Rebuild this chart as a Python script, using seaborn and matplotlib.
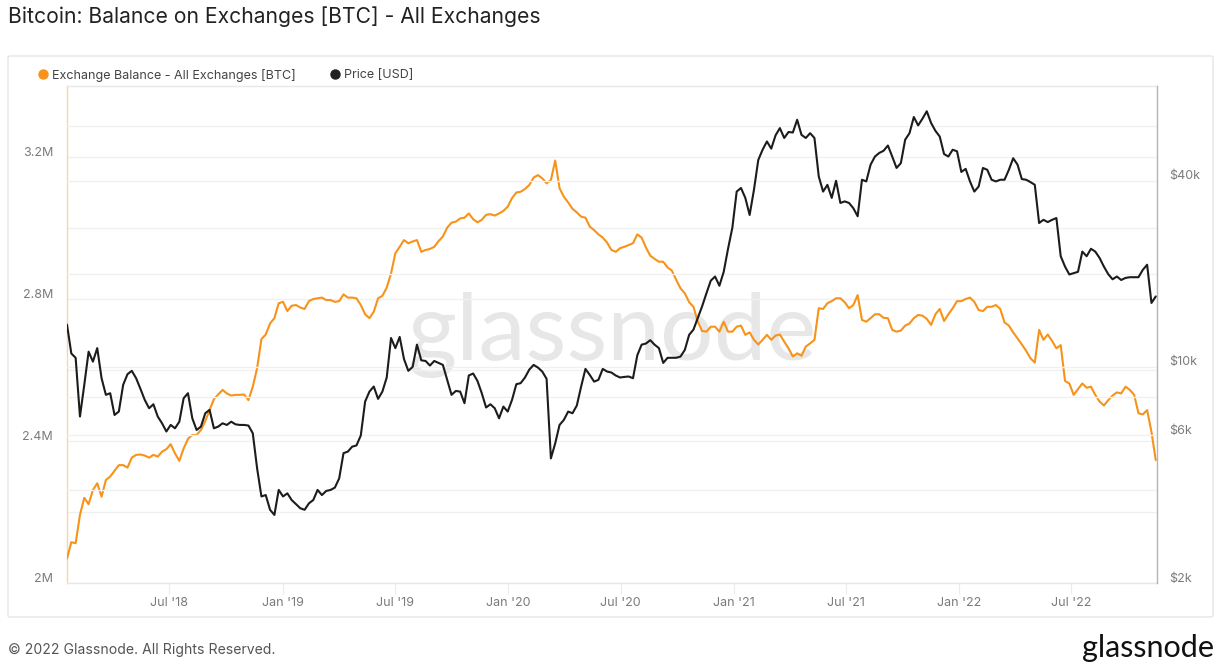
import numpy as np
import pandas as pd
import matplotlib
matplotlib.use("Agg")
import matplotlib.pyplot as plt
import matplotlib.dates as mdates
from matplotlib.ticker import FixedLocator, FuncFormatter, NullLocator
from matplotlib.transforms import ScaledTranslation
from matplotlib.lines import Line2D
from matplotlib.patches import FancyBboxPatch
import seaborn as sns

# ---------------- data (weekly readings) ----------------
start_date = "2018-01-16"

# Exchange balance, million BTC
balance_m = [
    2.069, 2.115, 2.112, 2.192, 2.240, 2.222, 2.262, 2.281, 2.243, 2.290,
    2.300, 2.316, 2.332, 2.332, 2.325, 2.353, 2.361, 2.362, 2.359, 2.353,
    2.361, 2.356, 2.370, 2.377, 2.391, 2.365, 2.344, 2.379, 2.406, 2.417,
    2.417, 2.431, 2.456, 2.487, 2.518, 2.531, 2.544, 2.534, 2.528, 2.530,
    2.530, 2.531, 2.515, 2.553, 2.605, 2.687, 2.700, 2.731, 2.746, 2.788,
    2.792, 2.766, 2.781, 2.783, 2.776, 2.772, 2.794, 2.800, 2.802, 2.804,
    2.797, 2.797, 2.792, 2.794, 2.813, 2.804,
    2.804, 2.802, 2.783, 2.757, 2.746, 2.764, 2.802, 2.809, 2.832, 2.872,
    2.929, 2.947, 2.966, 2.957, 2.962, 2.966, 2.933, 2.938, 2.941, 2.947,
    2.963, 2.976, 3.001, 3.015, 3.018, 3.027, 3.029, 3.041, 3.025, 3.016,
    3.023, 3.037, 3.039, 3.035, 3.041, 3.048, 3.060, 3.084, 3.100, 3.102,
    3.110, 3.121, 3.142, 3.149, 3.140, 3.126, 3.135, 3.190, 3.112, 3.088,
    3.072, 3.054, 3.044, 3.032, 3.029, 3.004, 2.994, 2.982, 2.973, 2.959,
    2.938, 2.933, 2.943, 2.947, 2.952,
    2.957, 2.982, 2.973, 2.945, 2.922, 2.913, 2.905, 2.905, 2.889, 2.880,
    2.854, 2.830, 2.816, 2.791, 2.778, 2.736, 2.710, 2.708, 2.722, 2.722,
    2.708, 2.736, 2.708, 2.708, 2.722, 2.725, 2.699, 2.706, 2.685, 2.672,
    2.685, 2.699, 2.685, 2.697, 2.700, 2.680, 2.661, 2.638, 2.647, 2.640,
    2.666, 2.675, 2.685, 2.774, 2.772, 2.788, 2.794, 2.802, 2.802, 2.791,
    2.774, 2.783, 2.811, 2.741, 2.736, 2.746, 2.757, 2.757, 2.747, 2.746,
    2.713, 2.708, 2.711, 2.725, 2.731,
    2.746, 2.755, 2.753, 2.744, 2.727, 2.757, 2.772, 2.738, 2.757, 2.774,
    2.794, 2.794, 2.800, 2.804, 2.792, 2.769, 2.766, 2.778, 2.778, 2.783,
    2.772, 2.734, 2.725, 2.706, 2.689, 2.672, 2.654, 2.633, 2.621, 2.713,
    2.685, 2.700, 2.682, 2.661, 2.670, 2.569, 2.562, 2.530, 2.546, 2.562,
    2.550, 2.553, 2.530, 2.511, 2.500, 2.515, 2.528, 2.537, 2.534, 2.553,
    2.544, 2.530, 2.478, 2.475, 2.487, 2.426, 2.346,
]

# BTC price, thousand USD
price_k = [
    13.7, 11.05, 10.7, 6.91, 8.75, 11.2, 10.4, 11.5, 9.19, 8.12,
    8.22, 6.99, 7.17, 8.75, 9.47, 9.71, 9.19, 8.49, 7.82, 7.35,
    7.57, 6.91, 6.57, 6.18, 6.49, 6.33, 6.65, 7.92, 8.22, 6.82,
    6.25, 6.41, 7.08, 7.26, 6.33, 6.41, 6.57, 6.49, 6.65, 6.52,
    6.49, 6.49, 6.46, 6.10, 4.70, 3.81, 3.85, 3.45, 3.32, 4.0,
    3.81, 3.90, 3.71, 3.60, 3.49, 3.45, 3.62, 3.71, 4.0, 3.85,
    3.97, 4.0, 4.07, 4.36, 5.26, 5.32,
    5.52, 5.57, 6.00, 7.72, 8.32, 8.64, 7.88, 8.32, 9.24, 12.4,
    11.5, 12.5, 10.6, 9.71, 10.0, 11.8, 10.5, 10.45, 10.1, 10.45,
    10.3, 10.15, 9.08, 8.12, 8.36, 8.32, 7.63, 9.38, 9.52, 9.01,
    8.22, 7.39, 7.57, 7.35, 6.82, 7.44, 7.17, 7.82, 8.79, 8.86,
    9.24, 9.8, 10.15, 9.95, 9.66, 9.15, 5.06, 5.66, 6.49, 6.74,
    7.17, 7.08, 7.50, 8.64, 9.85, 9.42, 8.96, 9.08, 9.85, 9.66,
    9.59, 9.38, 9.24, 9.28, 9.31,
    9.19, 10.9, 11.8, 11.9, 12.2, 11.8, 11.5, 10.3, 10.7, 10.7,
    10.7, 10.8, 11.35, 12.7, 13.2, 14.4, 15.7, 17.3, 19.0, 19.6,
    18.3, 20.3, 24.1, 28.2, 36.9, 37.9, 35.2, 31.0, 37.4, 46.7,
    50.4, 53.6, 50.8, 56.1, 59.2, 55.0, 57.5, 57.3, 63.0, 56.3,
    55.0, 57.0, 55.0, 41.3, 36.9, 38.8, 35.2, 40.0, 33.9, 34.3,
    33.9, 32.6, 30.7, 40.3, 39.8, 45.1, 47.9, 49.2, 50.0, 52.0,
    47.9, 44.0, 45.6, 54.3, 57.0,
    64.3, 60.4, 63.5, 67.1, 61.5, 58.0, 55.6, 48.8, 47.9, 50.4,
    49.8, 42.7, 43.7, 39.8, 36.9, 38.3, 44.0, 43.4, 40.3, 39.8,
    40.3, 40.3, 43.4, 47.3, 45.1, 40.5, 40.3, 39.6, 38.8, 29.2,
    29.9, 29.4, 29.9, 30.3, 22.8, 21.1, 19.9, 20.1, 20.3, 23.6,
    22.8, 24.1, 23.6, 22.5, 21.1, 19.95, 19.2, 19.6, 19.1, 19.4,
    19.5, 19.5, 19.5, 20.6, 21.4, 16.1, 16.9,
]

left_ticks = [2.0e6, 2.2e6, 2.4e6, 2.6e6, 2.8e6, 3.0e6, 3.2e6]
left_labels = {2.0e6: "2M", 2.4e6: "2.4M", 2.8e6: "2.8M", 3.2e6: "3.2M"}
right_ticks = [2000, 4000, 6000, 8000, 10000, 20000, 40000, 60000]
right_labels = {2000: "$2k", 6000: "$6k", 10000: "$10k", 40000: "$40k"}
x_ticks = ["2018-07-01", "2019-01-01", "2019-07-01", "2020-01-01", "2020-07-01",
           "2021-01-01", "2021-07-01", "2022-01-01", "2022-07-01"]

title = "Bitcoin: Balance on Exchanges [BTC] - All Exchanges"
series_balance = "Exchange Balance - All Exchanges [BTC]"
series_price = "Price [USD]"

# ---------------- build frame ----------------
dates = pd.date_range(start_date, periods=len(balance_m), freq="7D")
df = pd.DataFrame({
    "date": dates,
    "balance": np.array(balance_m) * 1e6,
    "price": np.array(price_k) * 1e3,
})

sns.set_theme(style="white")
plt.rcParams["font.family"] = ["Inter", "DejaVu Sans"]

W, H = 1222, 666
fig = plt.figure(figsize=(W / 100, H / 100), dpi=100)
fig.patch.set_facecolor("white")

L, R, T, B = 67, 1157, 86, 583
ax = fig.add_axes([L / W, 1 - B / H, (R - L) / W, (B - T) / H])
ax2 = ax.twinx()

orange = "#f7931a"
black = "#1c1c1c"
grid_c = "#f0f0f0"
tick_c = "#7b7b7b"

ax.text(0.5, 0.5, "glassnode", transform=ax.transAxes, ha="center", va="center",
        fontsize=68, color="#e7e7e7", zorder=0, family=["Lato", "DejaVu Sans"])

sns.lineplot(data=df, x="date", y="balance", ax=ax, color=orange, linewidth=1.5, zorder=3)
sns.lineplot(data=df, x="date", y="price", ax=ax2, color=black, linewidth=1.5, zorder=3)

ax.set_xlim(pd.Timestamp("2018-01-16"), pd.Timestamp("2022-11-17"))
ax.set_ylim(2.0e6, 3.4e6)
ax2.set_yscale("log")
ax2.set_ylim(2000, 81000)

ax.set_xlabel("")
ax.set_ylabel("")
ax2.set_ylabel("")

# left axis
ax.yaxis.set_major_locator(FixedLocator(left_ticks))
ax.yaxis.set_major_formatter(FuncFormatter(lambda v, p: left_labels.get(round(v, -4), "")))
ax.grid(axis="y", color=grid_c, linewidth=1.0)
ax.grid(axis="x", visible=False)

# right axis
ax2.yaxis.set_major_locator(FixedLocator(right_ticks))
ax2.yaxis.set_minor_locator(NullLocator())
ax2.yaxis.set_major_formatter(FuncFormatter(lambda v, p: right_labels.get(int(round(v)), "")))
ax2.grid(axis="y", color=grid_c, linewidth=1.0)
ax2.set_axisbelow(True)

# x axis
ax.xaxis.set_major_locator(FixedLocator(mdates.date2num(pd.to_datetime(x_ticks))))
ax.xaxis.set_major_formatter(mdates.DateFormatter("%b '%y"))

ax.tick_params(axis="y", length=0, labelsize=9, labelcolor=tick_c, pad=10)
ax2.tick_params(axis="y", length=0, labelsize=9, labelcolor=tick_c, pad=9)
ax.tick_params(axis="x", length=8, width=0.8, color="#ececec", labelsize=9,
               labelcolor=tick_c, pad=2, bottom=True)

for s in ["top", "bottom"]:
    ax.spines[s].set_color("#e8e8e8")
    ax2.spines[s].set_visible(False)
ax.spines["left"].set_color("#fcd5a4")
ax.spines["right"].set_visible(False)
ax2.spines["left"].set_visible(False)
ax2.spines["right"].set_color("#b5b5b5")
for a in (ax, ax2):
    for s in a.spines.values():
        s.set_linewidth(1.0)

# shift y tick labels slightly upward (as in reference)
off = ScaledTranslation(0, 6 / 100, fig.dpi_scale_trans)
for t in ax.yaxis.get_major_ticks():
    t.label1.set_transform(t.label1.get_transform() + off)
for t in ax2.yaxis.get_major_ticks():
    t.label2.set_transform(t.label2.get_transform() + off)

# legend
handles = [
    Line2D([], [], marker="o", linestyle="", markersize=6.5, color=orange),
    Line2D([], [], marker="o", linestyle="", markersize=6.5, color="#222222"),
]
fig.legend(handles, [series_balance, series_price], loc="center left",
           bbox_to_anchor=(24 / W, 1 - 75 / H), ncol=2, frameon=False,
           fontsize=9, handletextpad=0.1, columnspacing=2.6, labelcolor="#444444",
           handlelength=1.2)

# outer frame
frame = FancyBboxPatch((8 / W, 1 - 617 / H), (1213 - 8) / W, (617 - 56) / H,
                       boxstyle="round,pad=0,rounding_size=0.002",
                       transform=fig.transFigure, facecolor="none",
                       edgecolor="#e6e6e6", linewidth=1.0, zorder=0)
fig.add_artist(frame)

# title and footer
fig.text(8 / W, 1 - 17 / H, title, ha="left", va="center", fontsize=15.2, color="#222222")
fig.text(8 / W, 1 - 650 / H, "\u00a9 2022 Glassnode. All Rights Reserved.", ha="left",
         va="center", fontsize=10.1, color="#555555")
fig.text(1214 / W, 1 - 648 / H, "glassnode", ha="right", va="center", fontsize=22,
         color="#111111", family=["Lato", "DejaVu Sans"])

fig.savefig("out.png", dpi=100, facecolor="white")
